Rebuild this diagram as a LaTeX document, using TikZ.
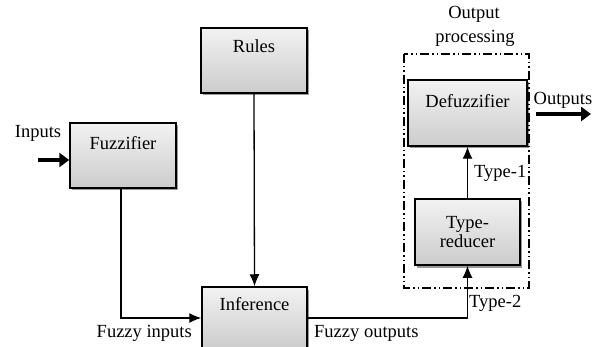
\documentclass[tikz,border=0pt]{standalone}
\usepackage{fontspec}
\setmainfont{Liberation Serif}
\usetikzlibrary{arrows.meta,shadows,calc}
\begin{document}
\begin{tikzpicture}[x=1pt,y=-1pt,
  font=\fontsize{18.5}{21}\selectfont,
  block/.style={draw=black,line width=1.5pt,rectangle,
    top color=gray!10,bottom color=gray!40,
    drop shadow={shadow xshift=2pt,shadow yshift=-2.5pt,opacity=0.4,fill=black},
    inner sep=0pt},
  wire/.style={line width=1.3pt,-{Latex[length=12pt,width=10pt]}},
  bigarrow/.style={line width=4pt,-{Triangle[length=10pt,width=14pt]}},
  lbl/.style={inner sep=0pt}]
\useasboundingbox (0,0) rectangle (596,347);

% processing blocks
\node[block,minimum width=106pt,minimum height=65pt] (fuzz) at (123,155.5) {};
\node[lbl] (fuzzt) at (123,143) {Fuzzifier};
\node[block,minimum width=106pt,minimum height=65pt] (rules) at (254,60.5) {};
\node[lbl] (rulest) at (254,46) {Rules};
\node[block,minimum width=105pt,minimum height=62pt] (inf) at (254.5,318) {};
\node[lbl] (inft) at (254.5,304) {Inference};
\node[block,minimum width=119pt,minimum height=66pt] (defuzz) at (467.5,113) {};
\node[lbl] (defuzzt) at (467.5,101) {Defuzzifier};
\node[block,minimum width=105pt,minimum height=66pt] (tr) at (467.5,232) {};
\node[lbl,align=center] (trt) at (467.5,232) {Type-\\[-2pt]reducer};

% output processing group
\draw[line width=1.4pt,dash pattern=on 9pt off 3pt on 1.5pt off 3pt on 1.5pt off 3pt]
  (404,54) rectangle (529,288);
\node[lbl] (outp1) at (474,14) {Output};
\node[lbl] (outp2) at (475,38) {processing};

% connectors
\coordinate (inl) at (38,160);
\coordinate (outr) at (591,114);
\draw[bigarrow] (inl) -- (fuzz.west |- inl);
\draw[bigarrow] (defuzz.east |- outr) ++(8,0) -- (outr);
\draw[wire] (fuzz.south -| 121,0) |- (inf.west);
\draw[wire] (rules.south) -- (inf.north);
\draw[wire] (inf.east) -| (tr.south);
\draw[wire] (tr.north) -- (defuzz.south);

% signal labels
\node[lbl] (inputs) at (38,133) {Inputs};
\node[lbl] (outputs) at (563,100) {Outputs};
\node[lbl,anchor=east] (fin) at (192,333) {Fuzzy inputs};
\node[lbl,anchor=west] (fout) at (314,333) {Fuzzy outputs};
\node[lbl,anchor=west] (t1) at (474,173) {Type-1};
\node[lbl,anchor=west] (t2) at (469,303) {Type-2};
\end{tikzpicture}
\end{document}
